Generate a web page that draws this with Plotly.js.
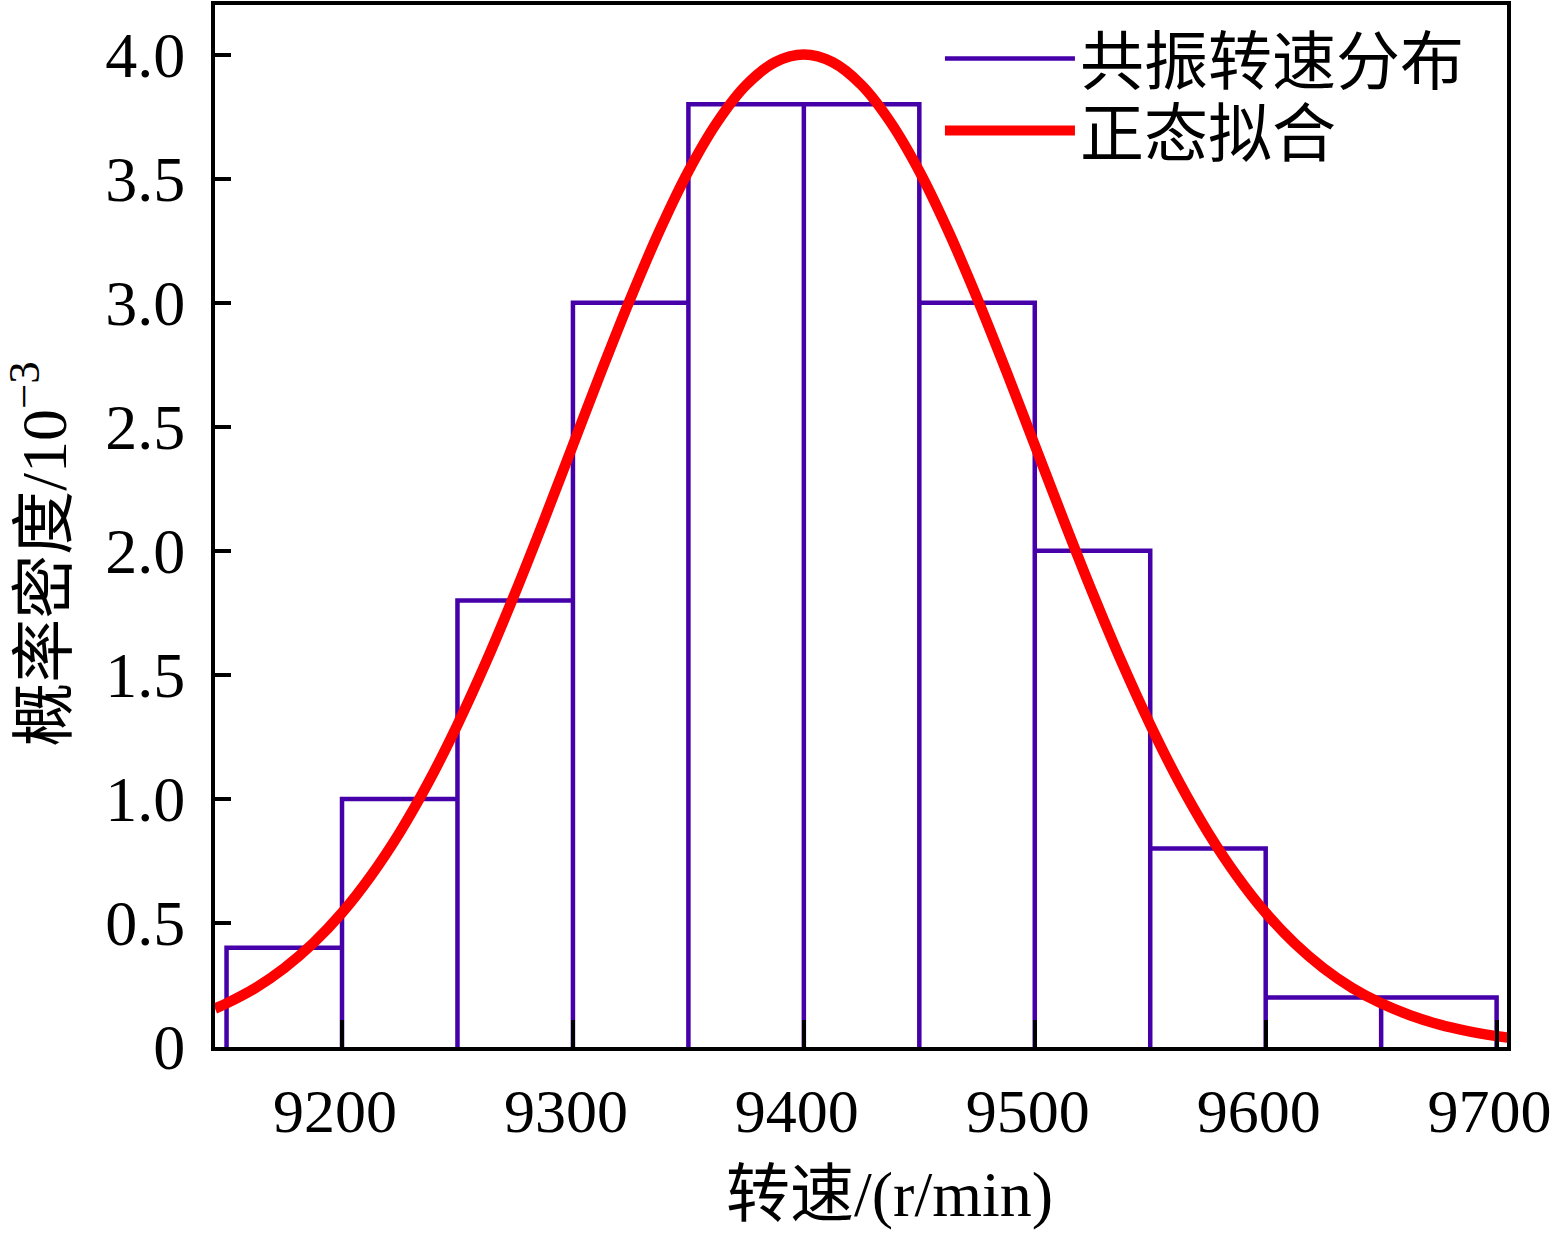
<!DOCTYPE html>
<html><head><meta charset="utf-8">
<script src="https://cdn.plot.ly/plotly-3.0.1.min.js"></script>
<style>html,body{margin:0;padding:0;background:#fff}</style>
</head><body><div id="chart" style="width:1554px;height:1233px"></div>
<script>
// Histogram bins (r/min) and probability density (×10^-3)
const binEdges = [9150, 9200, 9250, 9300, 9350, 9400, 9450, 9500, 9550, 9600, 9650, 9700];
const densities = [0.4, 1.0, 1.8, 3.0, 3.8, 3.8, 3.0, 2.0, 0.8, 0.2, 0.2];

// Normal fit curve
const fitSpeeds = [9145, 9150, 9162.5, 9175, 9187.5, 9200, 9212.5, 9225, 9237.5, 9250, 9262.5, 9275, 9287.5,
                   9300, 9312.5, 9325, 9337.5, 9350, 9362.5, 9375, 9387.5, 9400,
                   9412.5, 9425, 9437.5, 9450, 9462.5, 9475, 9487.5, 9500, 9512.5, 9525, 9537.5,
                   9550, 9562.5, 9575, 9587.5, 9600, 9612.5, 9625, 9637.5, 9650, 9662.5, 9675, 9687.5, 9700, 9705];
const fitDensities = [0.155, 0.176, 0.238, 0.318, 0.418, 0.541, 0.690, 0.865, 1.068, 1.299, 1.554, 1.831, 2.124,
                      2.426, 2.728, 3.019, 3.290, 3.530, 3.728, 3.877, 3.969, 4.000,
                      3.969, 3.877, 3.728, 3.530, 3.290, 3.019, 2.728, 2.426, 2.124, 1.831, 1.554,
                      1.299, 1.068, 0.865, 0.690, 0.541, 0.418, 0.318, 0.238, 0.176, 0.128, 0.091, 0.064, 0.044, 0.038];

const xTickVals = [9200, 9300, 9400, 9500, 9600, 9700];
const xTickText = ['9200', '9300', '9400', '9500', '9600', '9700'];
const yTickVals = [0, 0.5, 1.0, 1.5, 2.0, 2.5, 3.0, 3.5, 4.0];
const yTickText = ['0', '0.5', '1.0', '1.5', '2.0', '2.5', '3.0', '3.5', '4.0'];

const seriesNames = ['共振转速分布', '正态拟合'];
const xTitle = '转速/(r/min)';
const yTitle = '概率密度/10<sup>−3</sup>';

const SERIF = '"Liberation Serif", "Times New Roman", "Noto Sans CJK SC", serif';
const PURPLE = '#4600aa';
const RED = '#ff0000';

// Build histogram outline from bins
const histX = [], histY = [];
for (let i = 0; i < densities.length; i++) {
  histX.push(binEdges[i], binEdges[i], binEdges[i + 1], binEdges[i + 1]);
  histY.push(0, densities[i], densities[i], 0);
}

const traces = [
  {
    x: histX, y: histY, type: 'scatter', mode: 'lines',
    name: seriesNames[0], legend: 'legend',
    line: {color: PURPLE, width: 4.5, shape: 'linear'}
  },
  {
    x: fitSpeeds, y: fitDensities, type: 'scatter', mode: 'lines',
    name: seriesNames[1], legend: 'legend2',
    line: {color: RED, width: 10.5, shape: 'spline', smoothing: 1}
  }
];

const legendBase = {
  xanchor: 'left', yanchor: 'top',
  bgcolor: 'rgba(0,0,0,0)', borderwidth: 0,
  font: {family: SERIF, size: 64, color: '#000'},
  itemwidth: 130, tracegroupgap: 0
};

const layout = {
  width: 1554, height: 1233,
  margin: {l: 214.5, r: 46.5, t: 4.5, b: 186, pad: 0, autoexpand: false},
  paper_bgcolor: '#ffffff', plot_bgcolor: '#ffffff',
  font: {family: SERIF, size: 64, color: '#000'},
  showlegend: true,
  legend: Object.assign({}, legendBase, {x: (940 - 214.5) / 1293, y: (1047 - 10) / 1042.5}),
  legend2: Object.assign({}, legendBase, {x: (940 - 214.5) / 1293, y: (1047 - 82) / 1042.5}),
  xaxis: {
    range: [9145, 9704.5], autorange: false,
    tickmode: 'array', tickvals: xTickVals, ticktext: xTickText,
    ticks: 'inside', ticklen: 27, tickwidth: 4, tickcolor: '#000',
    showline: true, linewidth: 4, linecolor: '#000', mirror: true,
    showgrid: false, zeroline: false,
    tickfont: {family: SERIF, size: 62, color: '#000'},
    ticklabelstandoff: 7, ticklabelshift: -7, ticklabeloverflow: 'allow'
  },
  yaxis: {
    range: [0, 4.2], autorange: false,
    tickmode: 'array', tickvals: yTickVals, ticktext: yTickText,
    ticks: 'inside', ticklen: 16, tickwidth: 4, tickcolor: '#000',
    showline: true, linewidth: 4, linecolor: '#000', mirror: true,
    showgrid: false, zeroline: false,
    tickfont: {family: SERIF, size: 64, color: '#000'},
    ticklabelstandoff: 13
  },
  annotations: [
    {text: xTitle, xref: 'paper', yref: 'paper', x: (890 - 214.5) / 1293, y: -(1195 - 1047) / 1042.5,
     xanchor: 'center', yanchor: 'middle', showarrow: false,
     font: {family: SERIF, size: 64, color: '#000'}},
    {text: yTitle, xref: 'paper', yref: 'paper', x: (39 - 214.5) / 1293, y: (1047 - 554) / 1042.5,
     xanchor: 'center', yanchor: 'middle', showarrow: false, textangle: -90,
     font: {family: SERIF, size: 64, color: '#000'}}
  ]
};

Plotly.newPlot('chart', traces, layout, {displayModeBar: false, responsive: false});
</script>
</body></html>
